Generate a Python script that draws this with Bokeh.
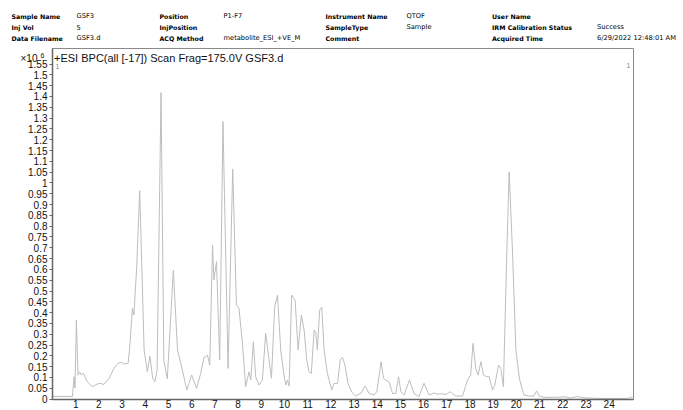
from bokeh.plotting import figure
from bokeh.models import Range1d, FixedTicker, Label
from bokeh.layouts import column
from bokeh.core.properties import value
from bokeh.embed import file_html
from bokeh.resources import INLINE

# Retention time (min) and BPC intensity (x10^6)
rt = [0.0, 0.86, 0.93, 0.97, 1.03, 1.10, 1.17, 1.25, 1.33, 1.50,
      1.72, 1.86, 2.01, 2.22, 2.44, 2.65, 2.82, 2.97, 3.08, 3.26,
      3.32, 3.45, 3.51, 3.63, 3.76, 3.95, 4.09, 4.20, 4.32, 4.41,
      4.51, 4.68, 4.80, 4.95, 5.21, 5.39, 5.60, 5.79, 6.00, 6.21,
      6.39, 6.53, 6.61, 6.68, 6.78, 6.90, 6.96, 7.07, 7.21, 7.35,
      7.57, 7.77, 7.93, 8.04, 8.19, 8.33, 8.47, 8.55, 8.66, 8.76,
      8.90, 9.05, 9.19, 9.44, 9.58, 9.70, 9.84, 9.98, 10.06, 10.13,
      10.20, 10.31, 10.46, 10.59, 10.73, 10.85, 10.96, 11.06, 11.16, 11.28,
      11.35, 11.42, 11.52, 11.61, 11.71, 11.85, 12.04, 12.14, 12.29, 12.40,
      12.50, 12.61, 12.74, 12.90, 13.07, 13.29, 13.48, 13.65, 13.86, 13.98,
      14.17, 14.27, 14.37, 14.51, 14.66, 14.80, 14.92, 15.02, 15.16, 15.39,
      15.59, 15.80, 16.02, 16.24, 16.44, 16.60, 16.78, 16.96, 17.14, 17.38,
      17.68, 17.89, 18.03, 18.13, 18.25, 18.35, 18.47, 18.58, 18.72, 18.82,
      18.97, 19.07, 19.23, 19.33, 19.44, 19.59, 19.69, 19.83, 19.98, 20.13, 20.22,
      20.33, 20.53, 20.76, 20.87, 20.98, 21.19, 21.61, 21.91, 22.06, 22.33,
      22.63, 23.04, 23.64, 24.20, 24.79, 25.01]

intensity = [0.012, 0.012, 0.103, 0.051, 0.366, 0.111, 0.126, 0.111, 0.120, 0.080,
             0.057, 0.065, 0.073, 0.068, 0.096, 0.142, 0.165, 0.170, 0.162, 0.165,
             0.227, 0.420, 0.389, 0.612, 0.964, 0.227, 0.126, 0.199, 0.097, 0.080,
             0.134, 1.418, 0.180, 0.093, 0.597, 0.227, 0.134, 0.042, 0.111, 0.050,
             0.119, 0.193, 0.196, 0.204, 0.157, 0.713, 0.551, 0.636, 0.181, 1.284,
             0.142, 1.065, 0.435, 0.420, 0.258, 0.057, 0.126, 0.088, 0.265, 0.103,
             0.065, 0.088, 0.304, 0.096, 0.427, 0.481, 0.227, 0.111, 0.065, 0.088,
             0.060, 0.481, 0.458, 0.227, 0.389, 0.319, 0.181, 0.126, 0.119, 0.319,
             0.310, 0.227, 0.412, 0.425, 0.227, 0.119, 0.042, 0.073, 0.071, 0.181,
             0.193, 0.157, 0.073, 0.032, 0.014, 0.026, 0.060, 0.026, 0.019, 0.034,
             0.173, 0.096, 0.088, 0.080, 0.026, 0.026, 0.103, 0.034, 0.019, 0.088,
             0.026, 0.011, 0.073, 0.019, 0.028, 0.023, 0.025, 0.021, 0.034, 0.014,
             0.014, 0.088, 0.111, 0.258, 0.142, 0.111, 0.173, 0.111, 0.103, 0.106,
             0.042, 0.065, 0.157, 0.142, 0.057, 0.690, 1.051, 0.690, 0.227, 0.096, 0.057,
             0.019, 0.014, 0.014, 0.038, 0.014, 0.008, 0.008, 0.009, 0.011, 0.005,
             0.011, 0.005, 0.003, 0.003, 0.003, 0.011]

x_ticks = [1, 2, 3, 4, 5, 6, 7, 8, 9, 10, 11, 12, 13, 14, 15, 16, 17, 18, 19, 20, 21, 22, 23, 24]
y_ticks = [0.0, 0.05, 0.1, 0.15, 0.2, 0.25, 0.3, 0.35, 0.4, 0.45, 0.5, 0.55, 0.6, 0.65, 0.7, 0.75,
           0.8, 0.85, 0.9, 0.95, 1.0, 1.05, 1.1, 1.15, 1.2, 1.25, 1.3, 1.35, 1.4, 1.45, 1.5, 1.55]
y_tick_labels = ["0", "0.05", "0.1", "0.15", "0.2", "0.25", "0.3", "0.35", "0.4", "0.45", "0.5",
                 "0.55", "0.6", "0.65", "0.7", "0.75", "0.8", "0.85", "0.9", "0.95", "1", "1.05",
                 "1.1", "1.15", "1.2", "1.25", "1.3", "1.35", "1.4", "1.45", "1.5", "1.55"]

header_keys = [["Sample Name", "Inj Vol", "Data Filename"],
               ["Position", "InjPosition", "ACQ Method"],
               ["Instrument Name", "SampleType", "Comment"],
               ["User Name", "IRM Calibration Status", "Acquired Time"]]
header_vals = [["GSF3", "5", "GSF3.d"],
               ["P1-F7", "", "metabolite_ESI_+VE_M"],
               ["QTOF", "Sample", ""],
               ["", "Success", "6/29/2022 12:48:01 AM"]]

title_text = "+ESI BPC(all [-17]) Scan Frag=175.0V GSF3.d"
scale_base = "\u00d710"
scale_exp = "6"

# ---------------- header strip ----------------
HEAD_H = 47
hdr = figure(width=683, height=HEAD_H, output_backend="svg", toolbar_location=None,
             x_range=Range1d(0, 683), y_range=Range1d(HEAD_H, 0),
             x_axis_location=None, y_axis_location=None,
             min_border=0, min_border_left=0, min_border_right=0,
             min_border_top=0, min_border_bottom=0)
hdr.frame_align = False
hdr.grid.visible = False
hdr.outline_line_color = None

key_col_x = [11, 159, 325, 491.5]
val_col_x = [76, 223, 406, 596.5]
row_y = [15.5, 26.5, 37.5]
kx, ky, kt, vx, vy, vt = [], [], [], [], [], []
for c in range(4):
    for r in range(3):
        kx.append(key_col_x[c]); ky.append(row_y[r]); kt.append(header_keys[c][r])
        if header_vals[c][r]:
            vx.append(val_col_x[c]); vy.append(row_y[r]); vt.append(header_vals[c][r])
hdr.text(x=kx, y=ky, text=kt, text_font=value("DejaVu Sans"), text_font_style="bold",
         text_font_size=value("6.3px"), text_baseline="middle", text_align="left",
         text_color="#000000")
hdr.text(x=vx, y=vy, text=vt, text_font=value("DejaVu Sans"),
         text_font_size=value("6.7px"), text_baseline="middle", text_align="left",
         text_color="#000000")

# ---------------- chromatogram ----------------
p = figure(width=683, height=410 - HEAD_H, output_backend="svg", toolbar_location=None,
           x_range=Range1d(0, 25.05), y_range=Range1d(-0.002, 1.622),
           min_border_left=52, min_border_right=50, min_border_top=1, min_border_bottom=11)
p.frame_align = False

p.line(rt, intensity, line_color="#bdbdbd", line_width=1)

p.grid.visible = False
p.outline_line_color = "#8a8a8a"
p.outline_line_width = 1

p.xaxis.ticker = FixedTicker(ticks=x_ticks)
p.yaxis.ticker = FixedTicker(ticks=y_ticks)
p.yaxis.major_label_overrides = {t: l for t, l in zip(y_ticks, y_tick_labels)}
for ax in (p.xaxis, p.yaxis):
    ax.axis_line_color = "#666666"
    ax.axis_line_width = 1.5
    ax.major_tick_line_color = "#666666"
    ax.minor_tick_line_color = None
    ax.major_tick_in = 0
    ax.major_label_text_font = "Liberation Sans"
    ax.major_label_text_font_size = "10px"
    ax.major_label_text_color = "#111111"
p.yaxis.major_tick_out = 3
p.yaxis.major_label_standoff = 2
p.xaxis.major_tick_out = 0
p.xaxis.major_label_standoff = 0

# texts inside the frame (screen units: x from frame left, y from frame bottom)
p.add_layout(Label(x=1.5, y=342, x_units="screen", y_units="screen", text=title_text,
                   text_font="Liberation Sans", text_font_size="11px", text_baseline="middle",
                   text_align="left", text_color="#111111"))
p.add_layout(Label(x=5, y=333, x_units="screen", y_units="screen", text="1",
                   text_font="Liberation Sans", text_font_size="7px", text_baseline="middle",
                   text_align="center", text_color="#888888"))
p.add_layout(Label(x=576, y=334, x_units="screen", y_units="screen", text="1",
                   text_font="Liberation Sans", text_font_size="7px", text_baseline="middle",
                   text_align="center", text_color="#888888"))
# scale factor, placed in the left side panels next to the y axis
p.add_layout(Label(x=12, y=341, x_units="screen", y_units="screen", text=scale_base,
                   text_font="Liberation Sans", text_font_size="10px", text_baseline="middle",
                   text_align="left", text_color="#111111"), "left")
p.add_layout(Label(x=36, y=344, x_units="screen", y_units="screen", text=scale_exp,
                   text_font="Liberation Sans", text_font_size="7px", text_baseline="middle",
                   text_align="left", text_color="#111111"), "left")

layout = column(hdr, p)
open("out.html", "w").write(file_html(layout, INLINE))
